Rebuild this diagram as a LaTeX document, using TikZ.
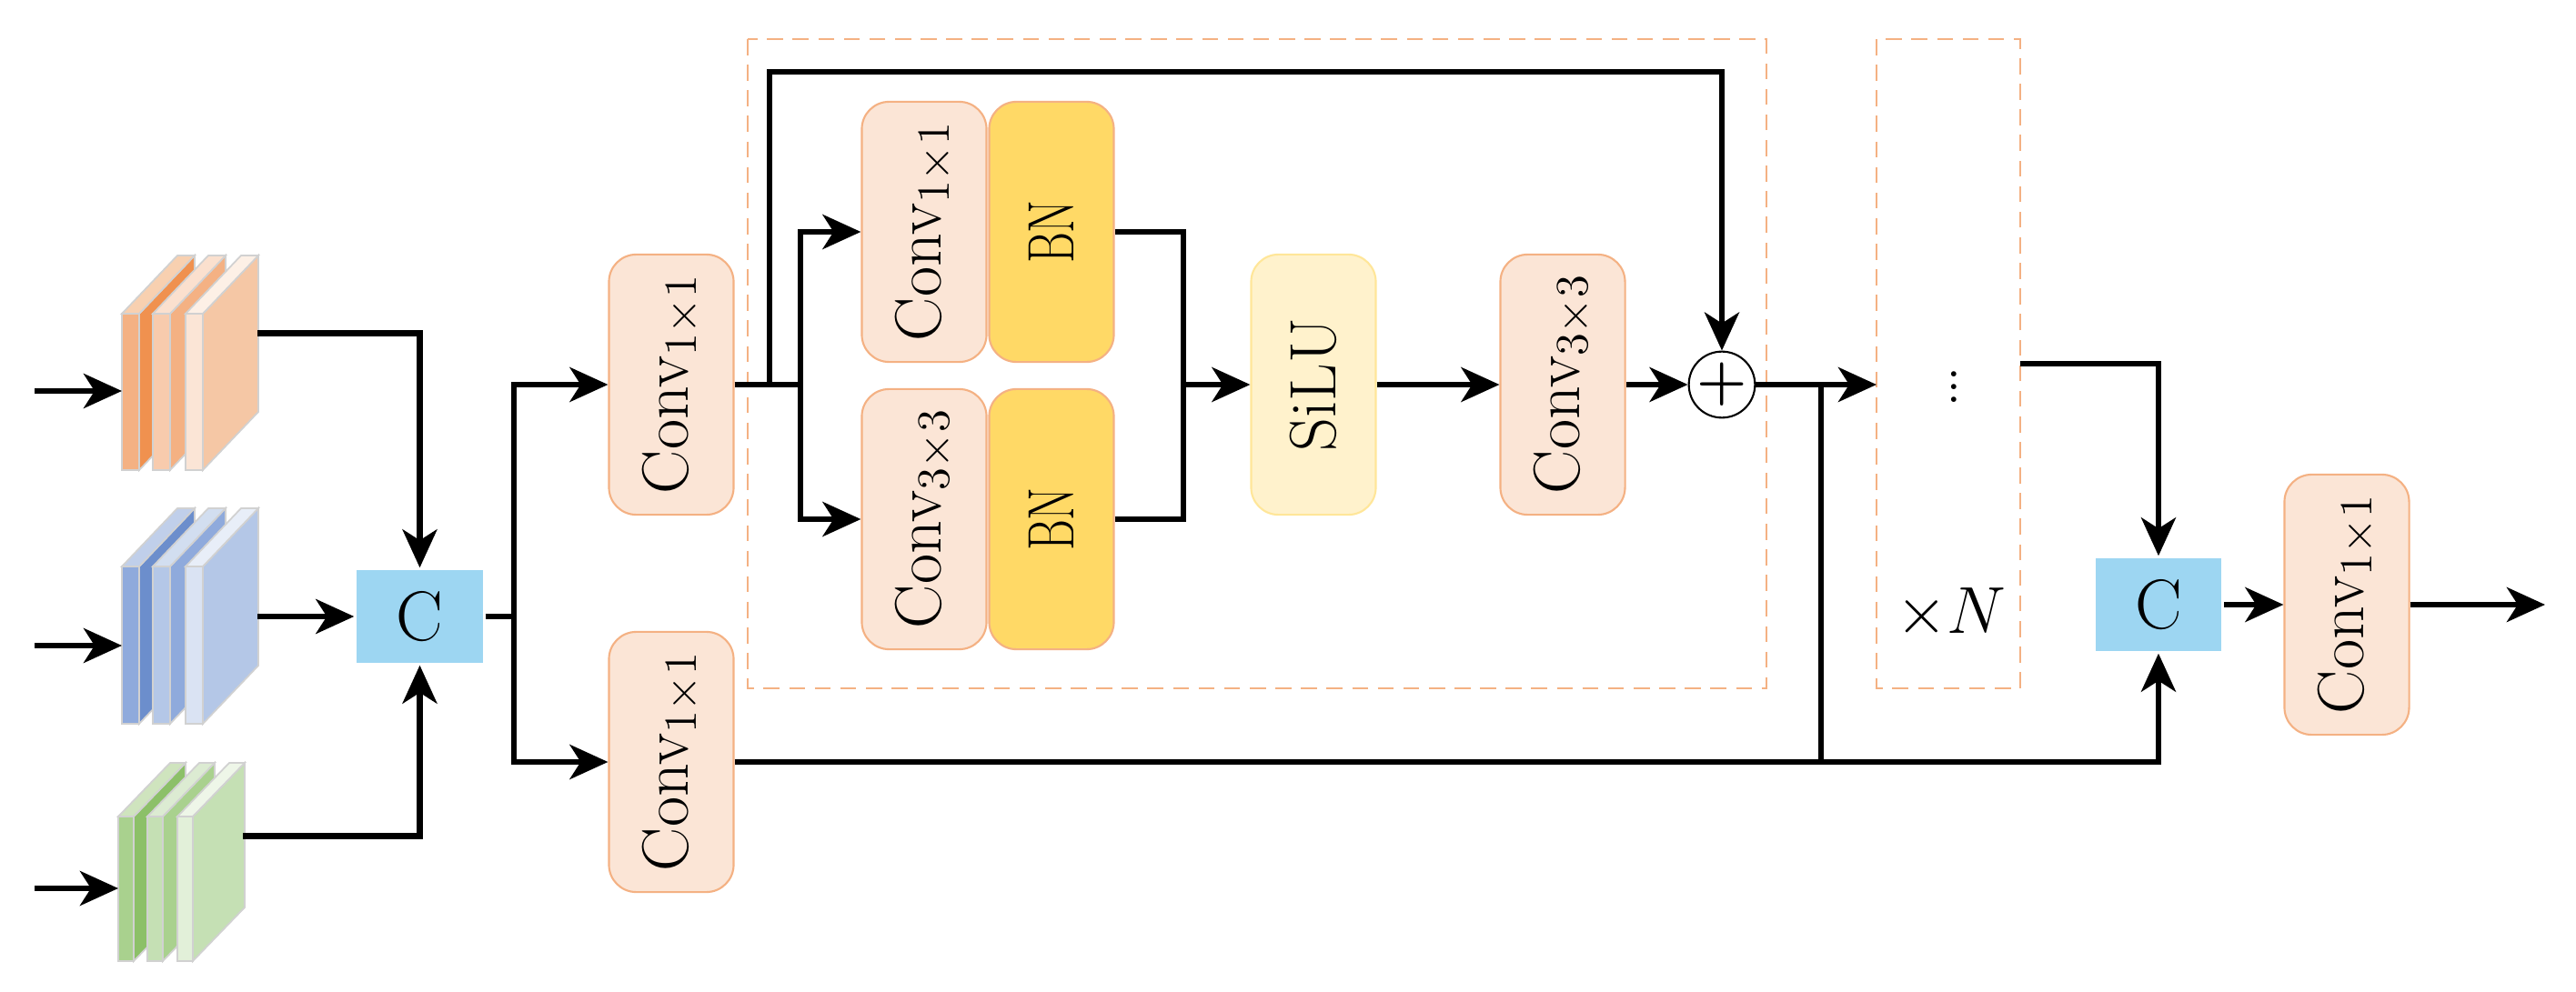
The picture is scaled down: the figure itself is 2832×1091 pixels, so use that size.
\documentclass[tikz,border=0pt]{standalone}
\usetikzlibrary{arrows.meta,calc}
\definecolor{convf}{HTML}{FBE5D6}
\definecolor{convd}{HTML}{F4B183}
\definecolor{bnf}{HTML}{FFD966}
\definecolor{siluf}{HTML}{FFF2CC}
\definecolor{silud}{HTML}{FFE699}
\definecolor{catf}{HTML}{9DD6F2}
\definecolor{dashc}{HTML}{F4B183}
\newcommand{\fmslab}[5]{%
  \fill[#4,draw=black!18,line width=0.5pt] (#1+\sw,#2) -- ++(\sdx,-\sdy) -- ++(0,\sh) -- ++(-\sdx,\sdy) -- cycle;
  \fill[#5,draw=black!18,line width=0.5pt] (#1,#2) -- ++(\sdx,-\sdy) -- ++(\sw,0) -- ++(-\sdx,\sdy) -- cycle;
  \fill[#3,draw=black!18,line width=0.5pt] (#1,#2) rectangle ++(\sw,\sh);
}
\newcommand{\cv}[2]{\rotatebox{90}{Conv\raisebox{-0.3ex}{\fontsize{15}{16}\selectfont$#1{\times}#2$}}}
\begin{document}
\begin{tikzpicture}[x=0.01cm,y=-0.01cm,
  line width=1.8pt,
  arr/.style={-{Stealth[length=0.42cm,width=0.38cm,inset=0.12cm]}},
  conv/.style={draw=convd,line width=0.6pt,fill=convf,rounded corners=0.3cm,minimum width=1.37cm,minimum height=2.86cm,inner sep=0pt,font=\fontsize{20.5}{22}\selectfont},
  bn/.style={conv,fill=bnf},
  silu/.style={conv,fill=siluf,draw=silud},
  cat/.style={fill=catf,minimum width=1.38cm,minimum height=1.01cm,inner sep=0pt,font=\fontsize{22}{24}\selectfont},
  dbox/.style={draw=dashc,line width=0.6pt,dash pattern=on 5pt off 3pt}]
\useasboundingbox (0,0) rectangle (2832,1091);
% feature map stacks
\definecolor{o1}{HTML}{F4B183}\definecolor{o2}{HTML}{F0914F}\definecolor{o3}{HTML}{F8D0B0}
\definecolor{o4}{HTML}{F8CBAD}\definecolor{o5}{HTML}{FBE0CE}\definecolor{o6}{HTML}{FBE5D6}\definecolor{o7}{HTML}{F5C7A5}\definecolor{o8}{HTML}{FDF0E6}
\def\sw{19}\def\sh{172}\def\sdx{61}\def\sdy{64}
\fmslab{134}{345}{o1}{o2}{o3}
\fmslab{168}{345}{o4}{o1}{o5}
\fmslab{204}{345}{o6}{o7}{o8}
\definecolor{b1}{HTML}{8FAADC}\definecolor{b2}{HTML}{6C8ECC}\definecolor{b3}{HTML}{C0CFEA}
\definecolor{b4}{HTML}{B4C7E7}\definecolor{b5}{HTML}{D2DEF0}\definecolor{b6}{HTML}{DAE3F3}\definecolor{b7}{HTML}{E8EEF8}
\def\sh{173}
\fmslab{134}{623}{b1}{b2}{b3}
\fmslab{168}{623}{b4}{b1}{b5}
\fmslab{204}{623}{b6}{b4}{b7}
\definecolor{g1}{HTML}{A9D18E}\definecolor{g2}{HTML}{8CC068}\definecolor{g3}{HTML}{CFE4BE}
\definecolor{g4}{HTML}{C5E0B4}\definecolor{g5}{HTML}{DCEBD2}\definecolor{g6}{HTML}{E2F0D9}\definecolor{g7}{HTML}{EEF6E8}
\def\sw{17}\def\sh{159}\def\sdx{57}\def\sdy{59}
\fmslab{130}{898}{g1}{g2}{g3}
\fmslab{162}{898}{g4}{g1}{g5}
\fmslab{195}{898}{g6}{g4}{g7}
\coordinate (io) at (38,430); \coordinate (so) at (134,430);
\coordinate (ib) at (38,710); \coordinate (sb) at (134,710);
\coordinate (ig) at (38,977); \coordinate (sg) at (130,977);
\draw[arr] (io) -- (so);
\draw[arr] (ib) -- (sb);
\draw[arr] (ig) -- (sg);
\coordinate (oo) at (283,366.5);
\coordinate (ob) at (283,678);
\coordinate (og) at (267,919.5);
% dashed boxes
\draw[dbox] (822,43) rectangle (1942,757);
\draw[dbox] (2063,43) rectangle (2221,757);
% nodes
\node[cat] (C1) at (461.5,678) {C};
\node[conv] (c1a) at (738,423) {\cv{1}{1}};
\node[conv] (c1b) at (738,838) {\cv{1}{1}};
\node[conv] (ia) at (1016,255) {\cv{1}{1}};
\node[bn] (bna) at (1156,255) {\rotatebox{90}{\scalebox{0.72}[1]{BN}}};
\node[conv] (ibb) at (1016,571) {\cv{3}{3}};
\node[bn] (bnb) at (1156,571) {\rotatebox{90}{\scalebox{0.72}[1]{BN}}};
\node[silu] (silu) at (1444,423) {\rotatebox{90}{SiLU}};
\node[conv] (c33) at (1718,423) {\cv{3}{3}};
\node[circle,draw,line width=0.6pt,minimum size=0.66cm,inner sep=0pt,font=\fontsize{18}{20}\bfseries] (plus) at (1893,423) {+};
\node[font=\fontsize{20}{22}\selectfont] (dots) at (2148,415) {$\vdots$};
\node[font=\fontsize{22}{24}\selectfont] (xn) at (2145,675) {$\times N$};
\node[cat] (C2) at (2373,665) {C};
\node[conv] (cf) at (2580,665) {\cv{1}{1}};
% connectors
\draw[arr] (oo) -| (C1.north);
\draw[arr] (og) -| (C1.south);
\draw[arr] (ob) -- (C1.west);
\coordinate (s1) at (565,678);
\draw (C1.east) -- (s1);
\draw[arr] (s1) |- (c1a.west);
\draw[arr] (s1) |- (c1b.west);
\coordinate (b1) at (880,423);
\coordinate (sk) at (846,423);
\draw (c1a.east) -- (b1);
\draw[arr] (sk) -- (846,79) -| (plus.north);
\draw[arr] (b1) |- (ia.west);
\draw[arr] (b1) |- (ibb.west);
\coordinate (m1) at (1301,423);
\draw (bna.east) -| (m1);
\draw (bnb.east) -| (m1);
\draw[arr] (m1) -- (silu.west);
\draw[arr] (silu.east) -- (c33.west);
\draw[arr] (c33.east) -- (plus.west);
\coordinate (d2in) at (2063,423);
\draw[arr] (plus.east) -- (d2in);
\coordinate (jn) at (2002,423);
\draw (jn) -- (2002,840);
\draw[arr] (c1b.east) -- (c1b.east -| C2.south) -- (C2.south);
\coordinate (d2out) at (2221,400);
\draw[arr] (d2out) -| (C2.north);
\draw[arr] (C2.east) -- (cf.west);
\coordinate (out) at (2798,665);
\draw[arr] (cf.east) -- (out);
\end{tikzpicture}
\end{document}
